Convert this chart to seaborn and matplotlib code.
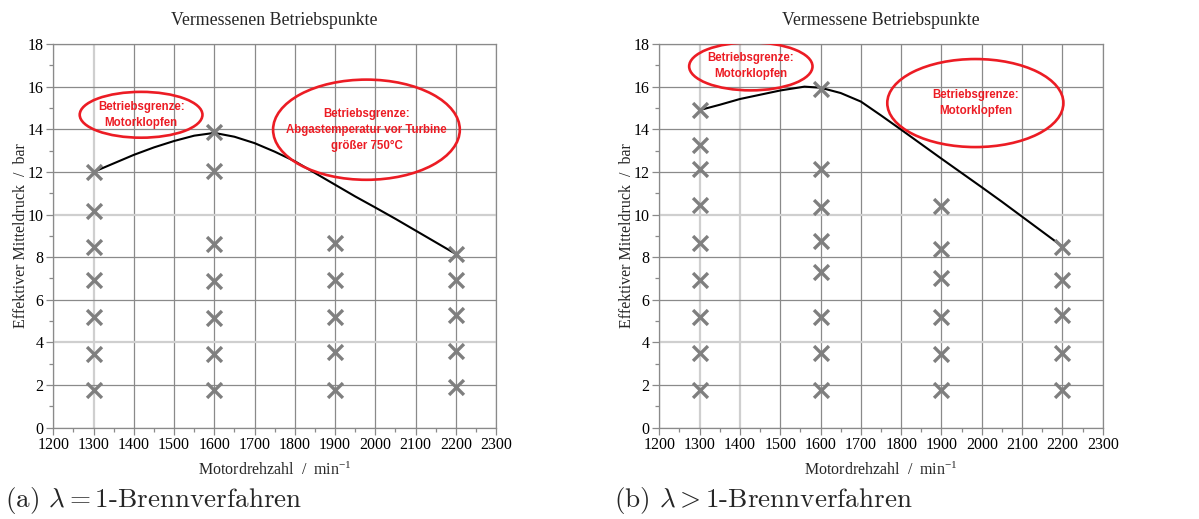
import numpy as np
import pandas as pd
import matplotlib
matplotlib.use("Agg")
import matplotlib.pyplot as plt
import seaborn as sns
from matplotlib.patches import Ellipse

# ---------------- data ----------------
# (a) lambda = 1
a_speed = [1300]*7 + [1600]*7 + [1900]*5 + [2200]*5
a_bmep = [12.0, 10.15, 8.5, 6.95, 5.2, 3.45, 1.75,
          13.85, 12.05, 8.6, 6.9, 5.15, 3.45, 1.75,
          8.65, 6.95, 5.2, 3.55, 1.75,
          8.15, 6.95, 5.3, 3.6, 1.9]
a_limit_speed = [1300, 1350, 1400, 1450, 1500, 1550, 1600, 1650, 1700, 1750, 1800, 1850,
                 1900, 1950, 2000, 2050, 2100, 2150, 2200]
a_limit_bmep = [12.0, 12.4, 12.8, 13.15, 13.45, 13.7, 13.83, 13.65, 13.35, 12.95, 12.5, 11.95,
                11.4, 10.85, 10.33, 9.8, 9.25, 8.7, 8.15]

# (b) lambda > 1
b_speed = [1300]*9 + [1600]*8 + [1900]*6 + [2200]*5
b_bmep = [14.9, 13.25, 12.15, 10.45, 8.65, 6.95, 5.2, 3.5, 1.75,
          15.9, 12.15, 10.35, 8.75, 7.3, 5.2, 3.5, 1.75,
          10.4, 8.4, 7.0, 5.2, 3.45, 1.75,
          8.5, 6.95, 5.3, 3.5, 1.75]
b_limit_speed = [1300, 1350, 1400, 1450, 1500, 1560, 1600, 1650, 1700, 1750, 1800, 1850,
                 1900, 1950, 2000, 2050, 2100, 2150, 2200]
b_limit_bmep = [14.9, 15.15, 15.42, 15.62, 15.82, 16.0, 15.95, 15.7, 15.3, 14.65, 13.98, 13.3,
                12.62, 11.95, 11.28, 10.6, 9.9, 9.2, 8.5]

titles = ["Vermessenen Betriebspunkte", "Vermessene Betriebspunkte"]
captions = [r"(a) $\lambda = 1$-Brennverfahren", r"(b) $\lambda > 1$-Brennverfahren"]
xlabel = r"Motordrehzahl  /  min$^{\mathregular{-1}}$"
ylabel = "Effektiver Mitteldruck  /  bar"
xticks = list(range(1200, 2301, 100))
yticks = list(range(0, 19, 2))

# annotations: (text, x-center, y-center, width, height)
a_notes = [("Betriebsgrenze:\nMotorklopfen", 1418, 14.68, 305, 2.15),
           ("Betriebsgrenze:\nAbgastemperatur vor Turbine\ngrößer 750°C", 1978, 13.98, 464, 4.7)]
b_notes = [("Betriebsgrenze:\nMotorklopfen", 1427, 16.95, 306, 2.25),
           ("Betriebsgrenze:\nMotorklopfen", 1984, 15.23, 437, 4.13)]

# ---------------- style ----------------
sns.set_theme(style="white")
plt.rcParams["font.family"] = ["Liberation Serif", "DejaVu Serif"]
plt.rcParams["mathtext.fontset"] = "stix"

fig = plt.figure(figsize=(11.99, 5.19), dpi=100)
ax_pos = [[0.0445, 0.1759, 0.3692, 0.7393],
          [0.5499, 0.1759, 0.3698, 0.7393]]

datasets = [(a_speed, a_bmep, a_limit_speed, a_limit_bmep, a_notes),
            (b_speed, b_bmep, b_limit_speed, b_limit_bmep, b_notes)]

grid_col = "#8a8a8a"
light_col = "#cfcfcf"
red = "#ec1c24"

for i, (sp, bm, ls, lb, notes) in enumerate(datasets):
    ax = fig.add_axes(ax_pos[i])
    pts = pd.DataFrame({"speed": sp, "bmep": bm})
    lim = pd.DataFrame({"speed": ls, "bmep": lb})
    sns.lineplot(data=lim, x="speed", y="bmep", ax=ax, color="black", lw=1.5,
                 sort=False, estimator=None, zorder=3)
    sns.scatterplot(data=pts, x="speed", y="bmep", ax=ax, marker="x", s=115,
                    color="#7f7f7f", linewidth=2.4, zorder=4)
    ax.set_xlim(1200, 2300)
    ax.set_ylim(0, 18)
    ax.set_xticks(xticks)
    ax.set_yticks(yticks)
    ax.set_xticks(np.arange(1250, 2300, 100), minor=True)
    ax.set_yticks(np.arange(1, 18, 2), minor=True)
    ax.grid(True, which="major", color=grid_col, lw=0.9)
    ax.set_axisbelow(True)
    light_x = [1300] if i == 0 else [1300, 1400]
    for gl, t in zip(ax.get_xgridlines(), xticks):
        if t in light_x:
            gl.set_color(light_col); gl.set_linewidth(1.6)
    for gl, t in zip(ax.get_ygridlines(), yticks):
        if t in (4, 10):
            gl.set_color(light_col); gl.set_linewidth(1.6)
    for s in ax.spines.values():
        s.set_color(grid_col); s.set_linewidth(0.9)
    ax.tick_params(which="major", direction="out", length=5, width=0.9, color=grid_col,
                   labelsize=11.5, pad=2, left=True, bottom=True, labelcolor="black")
    ax.tick_params(which="minor", direction="out", length=3, width=0.9, color=grid_col,
                   left=True, bottom=True)
    ax.set_xlabel(xlabel, fontsize=11.5, labelpad=6)
    ax.set_ylabel(ylabel, fontsize=11.5, labelpad=-1)
    ax.set_title(titles[i], fontsize=12.8, pad=14)
    for txt, cx, cy, w, h in notes:
        ax.add_patch(Ellipse((cx, cy), w, h, fill=False, edgecolor=red, lw=1.9, zorder=5))
        ax.text(cx, cy, txt, ha="center", va="center", color=red, fontsize=8.3,
                fontweight="bold", family="Liberation Sans", linespacing=1.45, zorder=6)
    ax.get_legend() and ax.get_legend().remove()

fig.text(0.004, 0.023, captions[0], family="cmr10", math_fontfamily="cm", fontsize=19.5,
         ha="left", va="baseline")
fig.text(0.512, 0.023, captions[1], family="cmr10", math_fontfamily="cm", fontsize=19.5,
         ha="left", va="baseline")

fig.savefig("out.png", dpi=100)
